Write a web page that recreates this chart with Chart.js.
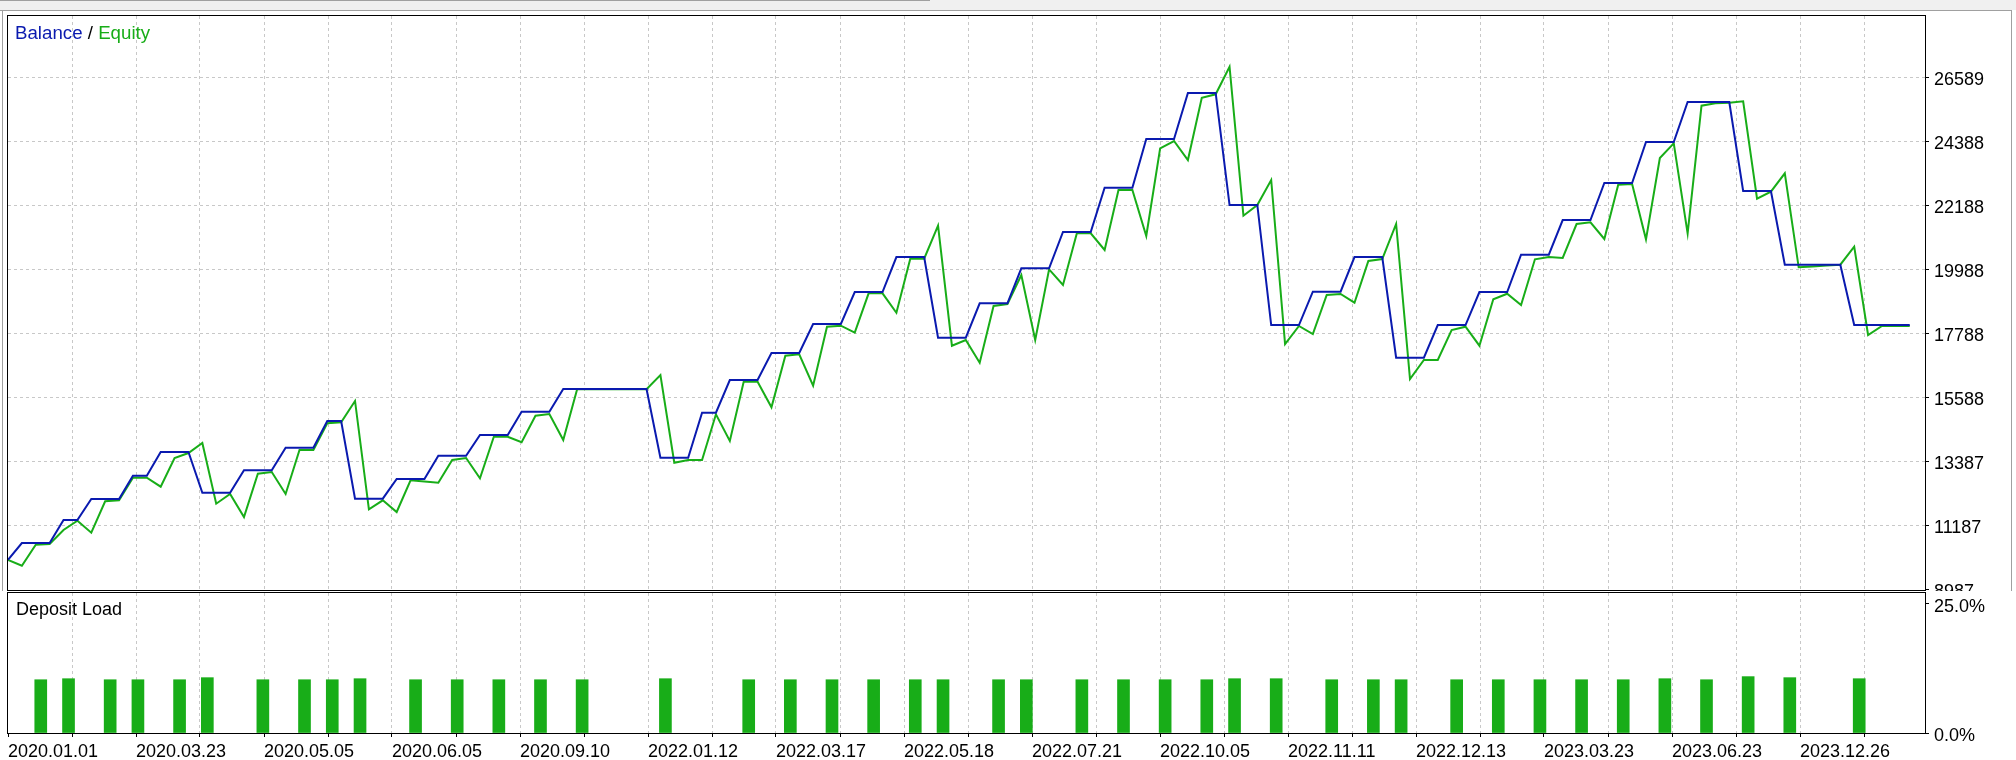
<!DOCTYPE html>
<html>
<head>
<meta charset="utf-8">
<script src="https://cdn.jsdelivr.net/npm/chart.js@4.4.1/dist/chart.umd.min.js"></script>
<style>
html, body { margin: 0; padding: 0; background: #fff; }
body { width: 2016px; height: 760px; position: relative; overflow: hidden; font-family: "Liberation Sans", Arial, sans-serif; }
#main { position: absolute; left: 0; top: 0; }
#load { position: absolute; left: 0; top: 591px; background: #fff; }
.ttl { position: absolute; font-size: 18px; line-height: 18px; white-space: nowrap; color: #000; }
.big { font-size: 18.7px; }
.bar { position: absolute; }
</style>
</head>
<body>
<div class="bar" style="left:0;top:0;width:2016px;height:10px;background:#f0f0f0"></div>
<div class="bar" style="left:0;top:0;width:930px;height:1px;background:#a0a0a0"></div>
<div class="bar" style="left:0;top:10px;width:2012px;height:1px;background:#a0a0a0"></div>
<div class="bar" style="left:2px;top:10px;width:1px;height:750px;background:#a0a0a0"></div>
<div class="bar" style="left:2011px;top:10px;width:1px;height:750px;background:#a0a0a0"></div>
<canvas id="main" width="2016" height="612" style="width:2016px;height:612px"></canvas>
<canvas id="load" width="2016" height="169" style="width:2016px;height:169px"></canvas>
<div class="ttl big" style="left:15px;top:24px"><span style="color:#0a1aaf">Balance</span> / <span style="color:#18ad18">Equity</span></div>
<div class="ttl" style="left:16px;top:600px">Deposit Load</div>
<script>
// ---------- data ----------
const X_LABELS = ["2020.01.01","2020.03.23","2020.05.05","2020.06.05","2020.09.10","2022.01.12","2022.03.17","2022.05.18","2022.07.21","2022.10.05","2022.11.11","2022.12.13","2023.03.23","2023.06.23","2023.12.26"];

const BALANCE = [
 10000,10579,10579,10579,11370,11370,12091,12091,12091,12892,
 12892,13707,13707,13707,12308,12308,12308,13078,13078,13078,
 13855,13855,13855,14773,14773,12102,12102,12102,12779,12779,
 12779,13580,13580,13580,14292,14292,14292,15093,15093,15093,
 15873,15873,15873,15873,15873,15873,15873,13511,13511,13511,
 15058,15058,16183,16183,16183,17111,17111,17111,18108,18108,
 18108,19208,19208,19208,20411,20411,20411,17637,17637,17637,
 18819,18819,18819,20023,20023,20023,21271,21271,21271,22794,
 22794,22794,24468,24468,24468,26050,26050,26050,22199,22199,
 22199,18073,18073,18073,19218,19218,19218,20411,20411,20411,
 16949,16949,16949,18073,18073,18073,19208,19208,19208,20490,
 20490,20490,21683,21683,21683,22955,22955,22955,24365,24365,
 24365,25740,25740,25740,25740,22680,22680,22680,20146,20146,
 20146,20146,20146,18073,18073,18073,18073,18073
];

const EQUITY = [
 10000,9798,10520,10544,11026,11345,10933,12012,12047,12824,
 12824,12514,13501,13673,14017,11930,12263,11473,12961,13020,
 12263,13776,13776,14694,14728,15461,11737,12047,11644,12734,
 12693,12652,13432,13501,12803,14233,14233,14041,14955,15014,
 14120,15866,15866,15866,15866,15866,15866,16354,13339,13432,
 13432,15003,14085,16124,16124,15244,17018,17066,15987,18015,
 18049,17809,19163,19163,18496,20353,20353,21487,17362,17558,
 16777,18727,18795,19792,17558,19988,19449,21226,21226,20652,
 22715,22715,21133,24148,24399,23746,25888,26005,26953,21831,
 22199,23058,17420,18039,17764,19105,19139,18840,20274,20342,
 21546,16217,16870,16870,17902,18015,17362,18957,19149,18761,
 20332,20411,20377,21546,21604,21030,22897,22921,21020,23815,
 24320,21226,25613,25695,25716,25764,22416,22656,23289,20057,
 20084,20118,20146,20765,17730,18039,18039,18039
];

const LOAD_DEALS = [2,4,7,9,12,14,18,21,23,25,29,32,35,38,41,47,53,56,59,62,65,67,71,
                    73,77,80,83,86,88,91,95,98,100,104,107,110,113,116,119,122,125,128,133];
const LOAD_PCT = [10.3,10.5,10.3,10.3,10.3,10.7,10.3,10.3,10.3,10.5,10.3,10.3,10.3,10.3,10.3,10.5,10.3,10.3,10.3,10.3,10.3,10.3,10.3,
                  10.3,10.3,10.3,10.3,10.3,10.5,10.5,10.3,10.3,10.3,10.3,10.3,10.3,10.3,10.3,10.5,10.3,10.9,10.7,10.5];

const Y_TICKS = [8987,11187,13387,15588,17788,19988,22188,24388,26589];
const LOAD_TICKS = [0, 25];

// ---------- layout / style ----------
const W = 2016;
const PLOT_L = 8, PLOT_R = 1925;
const AXIS_W = W - PLOT_R;
const X_MIN = 0, X_MAX = 138.1;
const Y_MIN = 8963, Y_MAX = 28697;
const LOAD_MAX = 27.07;
const GRID_PX = 64;
const PX_PER_UNIT = (PLOT_R - PLOT_L) / (X_MAX - X_MIN);
const X_STEP = GRID_PX / PX_PER_UNIT;
const X_TICK_COUNT = Math.floor((X_MAX - X_MIN) / X_STEP) + 1;
const BAR_SHIFT = 5 / PX_PER_UNIT;

const BLUE = '#0a1aaf';
const GREEN = '#18ad18';
const GRID = '#c8c8c8';
const DASH = [3, 3];
const FONT = { family: '"Liberation Sans", Arial, sans-serif', size: 18 };

const xTicks = () => Array.from({ length: X_TICK_COUNT }, (_, k) => ({ value: X_MIN + k * X_STEP }));

const framePlugin = {
  id: 'frame',
  afterDraw(chart) {
    const { ctx, chartArea: a } = chart;
    ctx.save();
    ctx.strokeStyle = '#000';
    ctx.lineWidth = 1;
    ctx.setLineDash([]);
    ctx.strokeRect(a.left - 0.5, a.top - 0.5, a.right - a.left + 1, a.bottom - a.top + 1);
    ctx.restore();
  }
};

// ---------- balance / equity ----------
new Chart(document.getElementById('main'), {
  type: 'line',
  data: {
    datasets: [
      { label: 'Balance', data: BALANCE.map((v, i) => ({ x: i, y: v })), borderColor: BLUE, borderWidth: 2, pointRadius: 0, tension: 0, order: 0 },
      { label: 'Equity', data: EQUITY.map((v, i) => ({ x: i, y: v })), borderColor: GREEN, borderWidth: 2, pointRadius: 0, tension: 0, order: 1 }
    ]
  },
  options: {
    responsive: false, animation: false, devicePixelRatio: 1,
    layout: { padding: { left: PLOT_L, top: 16, right: 0, bottom: 22 } },
    plugins: { legend: { display: false }, tooltip: { enabled: false } },
    scales: {
      x: {
        type: 'linear', min: X_MIN, max: X_MAX, bounds: 'data', position: 'bottom',
        grid: { color: c => c.index === 0 ? 'rgba(0,0,0,0)' : GRID, drawTicks: false, lineWidth: 1 },
        border: { display: false, dash: DASH },
        ticks: { display: false },
        afterBuildTicks: s => { s.ticks = xTicks(); },
        afterFit: s => { s.height = 0; s.paddingLeft = 0; s.paddingRight = 0; }
      },
      y: {
        type: 'linear', position: 'right', min: Y_MIN, max: Y_MAX, bounds: 'data',
        grid: { color: c => c.index === 0 ? 'rgba(0,0,0,0)' : GRID, tickColor: '#000', tickLength: 4, tickBorderDash: [], lineWidth: 1 },
        border: { display: false, dash: DASH },
        ticks: { color: '#000', font: FONT, padding: 5, labelOffset: 3, callback: v => String(v) },
        afterBuildTicks: s => { s.ticks = Y_TICKS.map(v => ({ value: v })); },
        afterFit: s => { s.width = AXIS_W; s.paddingTop = 0; s.paddingBottom = 0; }
      }
    }
  },
  plugins: [framePlugin]
});

// ---------- deposit load ----------
new Chart(document.getElementById('load'), {
  type: 'bar',
  data: {
    datasets: [{
      label: 'Deposit Load',
      data: LOAD_DEALS.map((d, i) => ({ x: d + BAR_SHIFT, y: LOAD_PCT[i] })),
      backgroundColor: GREEN, borderWidth: 0, barThickness: 12
    }]
  },
  options: {
    responsive: false, animation: false, devicePixelRatio: 1,
    layout: { padding: { left: PLOT_L, top: 2, right: 0, bottom: 0 } },
    plugins: { legend: { display: false }, tooltip: { enabled: false } },
    scales: {
      x: {
        type: 'linear', min: X_MIN, max: X_MAX, bounds: 'data', offset: false, position: 'bottom',
        grid: { offset: false, color: c => c.index === 0 ? 'rgba(0,0,0,0)' : GRID, tickColor: '#000', tickLength: 4, tickBorderDash: [], lineWidth: 1 },
        border: { display: false, dash: DASH },
        ticks: {
          color: '#000', font: FONT, padding: 4, align: 'start', autoSkip: false, maxRotation: 0, minRotation: 0,
          callback: (v, i) => (i % 2 === 0 && X_LABELS[i / 2]) ? X_LABELS[i / 2] : ''
        },
        afterBuildTicks: s => { s.ticks = xTicks(); },
        afterFit: s => { s.height = 27; s.paddingLeft = 0; s.paddingRight = 0; }
      },
      y: {
        type: 'linear', position: 'right', min: 0, max: LOAD_MAX, bounds: 'data',
        grid: { drawOnChartArea: false, tickColor: '#000', tickLength: 4, tickBorderDash: [] },
        border: { display: false },
        ticks: { color: '#000', font: FONT, padding: 5, labelOffset: 3, callback: v => v.toFixed(1) + '%' },
        afterBuildTicks: s => { s.ticks = LOAD_TICKS.map(v => ({ value: v })); },
        afterFit: s => { s.width = AXIS_W; s.paddingTop = 0; s.paddingBottom = 0; }
      }
    }
  },
  plugins: [framePlugin]
});
</script>
</body>
</html>
